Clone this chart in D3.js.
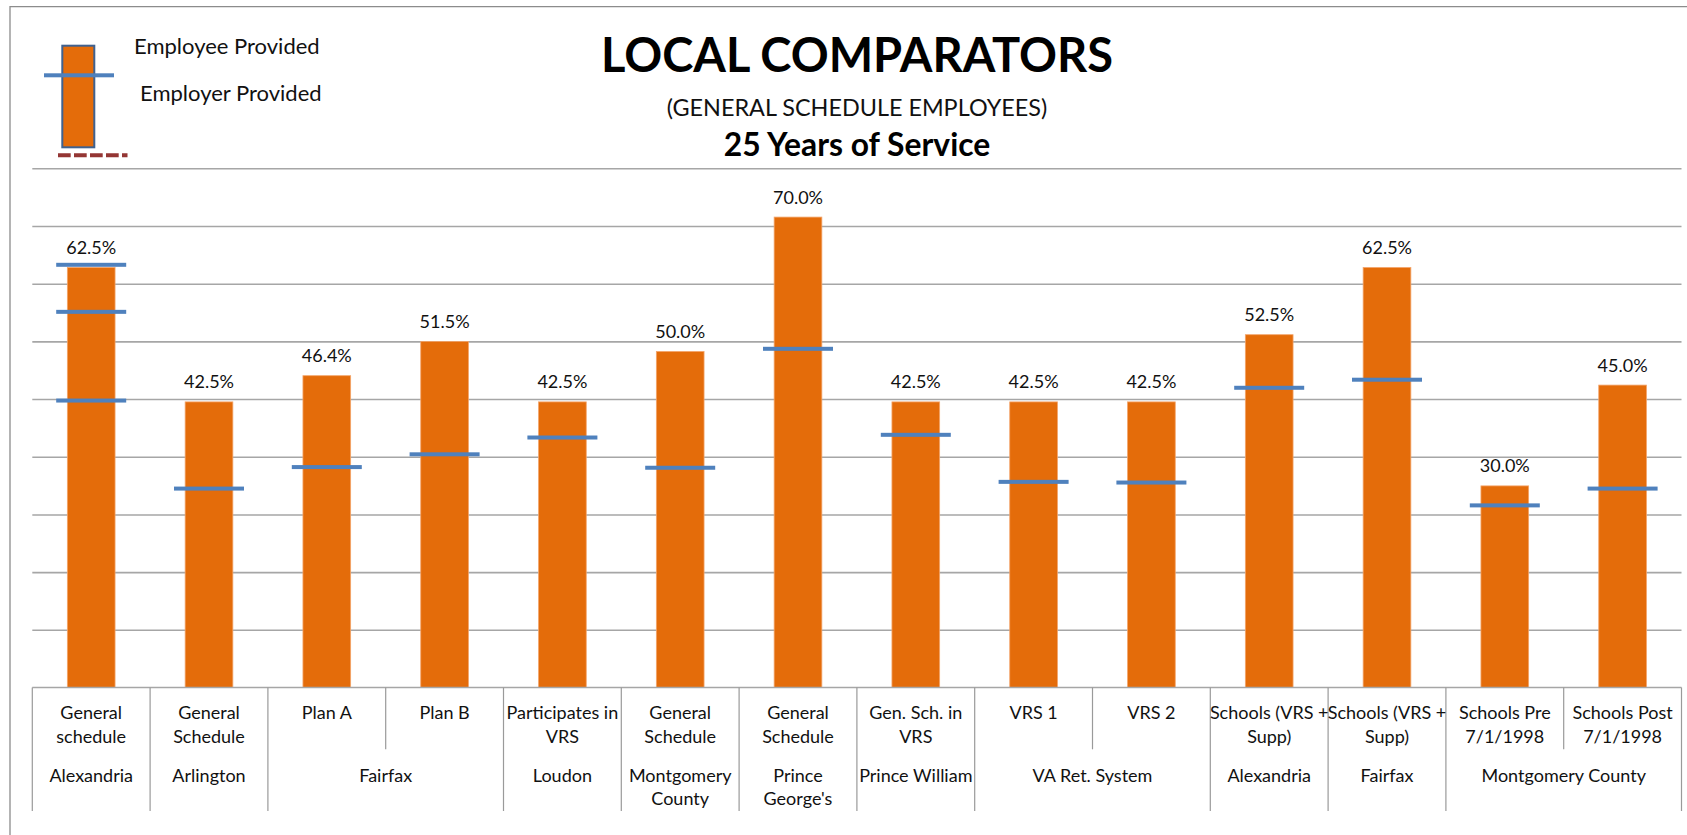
<!DOCTYPE html>
<html>
<head>
<meta charset="utf-8">
<script src="https://cdn.jsdelivr.net/npm/d3@7"></script>
<style>
  html, body { margin: 0; padding: 0; background: #ffffff; }
  svg { display: block; font-family: Lato, "Open Sans", sans-serif; }
</style>
</head>
<body>
<svg id="chart" width="1687" height="835"></svg>
<script>
// Category labels (first axis level); "\n" marks where the label wraps
const categories = [
  "General\nschedule", "General\nSchedule", "Plan A", "Plan B",
  "Participates in\nVRS", "General\nSchedule", "General\nSchedule",
  "Gen. Sch. in\nVRS", "VRS 1", "VRS 2", "Schools (VRS +\nSupp)",
  "Schools (VRS +\nSupp)", "Schools Pre\n7/1/1998", "Schools Post\n7/1/1998"
];

// Jurisdictions (second axis level) and how many categories each covers
const groupNames = [
  "Alexandria", "Arlington", "Fairfax", "Loudon", "Montgomery\nCounty",
  "Prince\nGeorge's", "Prince William", "VA Ret. System", "Alexandria",
  "Fairfax", "Montgomery County"
];
const groupSizes = [1, 1, 2, 1, 1, 1, 1, 2, 1, 1, 2];

// Employee provided benefit (bars), share of final salary
const employeeProvided = [
  0.625, 0.425, 0.464, 0.515, 0.425, 0.500, 0.700,
  0.425, 0.425, 0.425, 0.525, 0.625, 0.300, 0.450
];

// Employer provided benefit (blue markers); Alexandria shows three levels
const employerProvided = [
  [0.629, 0.559, 0.427], [0.296], [0.328], [0.347], [0.372], [0.327], [0.504],
  [0.376], [0.306], [0.305], [0.446], [0.458], [0.271], [0.296]
];

// Horizontal gridline values
const gridTicks = [0.0859, 0.1717, 0.2575, 0.3434, 0.4292, 0.5151, 0.6009, 0.6868, 0.7726];

const titleText = "LOCAL COMPARATORS";
const subtitleText = "(GENERAL SCHEDULE EMPLOYEES)";
const serviceText = "25 Years of Service";
const legendLabels = ["Employee Provided", "Employer Provided"];

const ORANGE = "#e46c0a";
const BLUE = "#4f81bd";
const GRID = "#a6a6a6";
const TEXT = "#111111";

const svg = d3.select("#chart");

// Plot geometry
const plotLeft = 32.3, plotRight = 1681.5, plotBottom = 687.5, plotTop = 168.3;

const x = d3.scaleBand()
  .domain(d3.range(categories.length))
  .range([plotLeft, plotRight])
  .paddingInner(0.595)
  .paddingOuter(0.2975);

const y = d3.scaleLinear()
  .domain([0, gridTicks[gridTicks.length - 1]])
  .range([plotBottom, plotTop]);

const step = x.step();
const center = i => x(i) + x.bandwidth() / 2;
const pct = d3.format(".1%");

// Outer frame
svg.append("path")
  .attr("d", `M10,${835 + 2} V6.7 H${1687 + 2}`)
  .attr("fill", "none")
  .attr("stroke", "#8c8c8c")
  .attr("stroke-width", 1.3);

// Gridlines
const yAxis = d3.axisLeft(y).tickValues(gridTicks).tickSize(-(plotRight - plotLeft)).tickFormat("");
const gAxis = svg.append("g")
  .attr("transform", `translate(${plotLeft},0)`)
  .call(yAxis);
gAxis.select(".domain").remove();
gAxis.selectAll(".tick line").attr("stroke", GRID).attr("stroke-width", 1.6);

// Bars
svg.append("g").selectAll("rect")
  .data(employeeProvided)
  .join("rect")
  .attr("x", (d, i) => x(i))
  .attr("y", d => y(d))
  .attr("width", x.bandwidth())
  .attr("height", d => y(0) - y(d))
  .attr("fill", ORANGE)
  .attr("stroke", "#f3a56b")
  .attr("stroke-width", 0.8);

// Value labels
svg.append("g").selectAll("text")
  .data(employeeProvided)
  .join("text")
  .attr("x", (d, i) => center(i))
  .attr("y", d => y(d) - 13.5)
  .attr("text-anchor", "middle")
  .attr("font-size", 18)
  .attr("fill", TEXT)
  .text(d => pct(d));

// Employer provided markers
const markW = 70, markH = 4;
const marks = employerProvided.flatMap((vals, i) => vals.map(v => ({ i, v })));
svg.append("g").selectAll("rect")
  .data(marks)
  .join("rect")
  .attr("x", d => center(d.i) - markW / 2)
  .attr("y", d => y(d.v) - markH / 2)
  .attr("width", markW)
  .attr("height", markH)
  .attr("fill", BLUE);

// Category axis: base line
svg.append("line")
  .attr("x1", plotLeft).attr("x2", plotRight)
  .attr("y1", plotBottom).attr("y2", plotBottom)
  .attr("stroke", GRID).attr("stroke-width", 1.6);

// Category axis: divider lines (short inside a group, long between groups)
const groupStarts = [];
groupSizes.reduce((acc, n) => { groupStarts.push(acc); return acc + n; }, 0);
const longDividers = new Set([...groupStarts, categories.length]);
svg.append("g").selectAll("line")
  .data(d3.range(categories.length + 1))
  .join("line")
  .attr("x1", k => plotLeft + k * step)
  .attr("x2", k => plotLeft + k * step)
  .attr("y1", plotBottom)
  .attr("y2", k => longDividers.has(k) ? 811 : 749.3)
  .attr("stroke", "#9a9a9a")
  .attr("stroke-width", 1.2);

// Category labels (level 1)
const lvl1 = svg.append("g").attr("font-size", 18).attr("fill", TEXT).attr("text-anchor", "middle");
categories.forEach((c, i) => {
  const t = lvl1.append("text").attr("x", center(i)).attr("y", 719.3);
  c.split("\n").forEach((line, j) => {
    t.append("tspan").attr("x", center(i)).attr("dy", j === 0 ? 0 : 23.4).text(line);
  });
});

// Group labels (level 2)
const lvl2 = svg.append("g").attr("font-size", 18).attr("fill", TEXT).attr("text-anchor", "middle");
groupNames.forEach((g, k) => {
  const cx = plotLeft + (groupStarts[k] + groupSizes[k] / 2) * step;
  const t = lvl2.append("text").attr("x", cx).attr("y", 781.7);
  g.split("\n").forEach((line, j) => {
    t.append("tspan").attr("x", cx).attr("dy", j === 0 ? 0 : 23.4).text(line);
  });
});

// Titles
svg.append("text")
  .attr("x", 857).attr("y", 72)
  .attr("text-anchor", "middle")
  .attr("font-size", 47).attr("font-weight", 700).attr("fill", "#000")
  .text(titleText);
svg.append("text")
  .attr("x", 857).attr("y", 116)
  .attr("text-anchor", "middle")
  .attr("font-size", 23.4).attr("fill", TEXT)
  .text(subtitleText);
svg.append("text")
  .attr("x", 857).attr("y", 155.5)
  .attr("text-anchor", "middle")
  .attr("font-size", 31.8).attr("font-weight", 700).attr("fill", "#000")
  .text(serviceText);

// Legend
const legend = svg.append("g");
legend.append("rect")
  .attr("x", 62.3).attr("y", 45.7).attr("width", 32).attr("height", 101.6)
  .attr("fill", ORANGE).attr("stroke", "#3f6290").attr("stroke-width", 2);
legend.append("rect")
  .attr("x", 44).attr("y", 73.3).attr("width", 70).attr("height", 4)
  .attr("fill", BLUE);
legend.append("line")
  .attr("x1", 58).attr("x2", 127.5).attr("y1", 155.3).attr("y2", 155.3)
  .attr("stroke", "#943634").attr("stroke-width", 4)
  .attr("stroke-dasharray", "12.7 3.3");
legend.append("text")
  .attr("x", 134).attr("y", 54).attr("font-size", 22).attr("fill", TEXT)
  .text(legendLabels[0]);
legend.append("text")
  .attr("x", 140).attr("y", 100.5).attr("font-size", 22).attr("fill", TEXT)
  .text(legendLabels[1]);
</script>
</body>
</html>
